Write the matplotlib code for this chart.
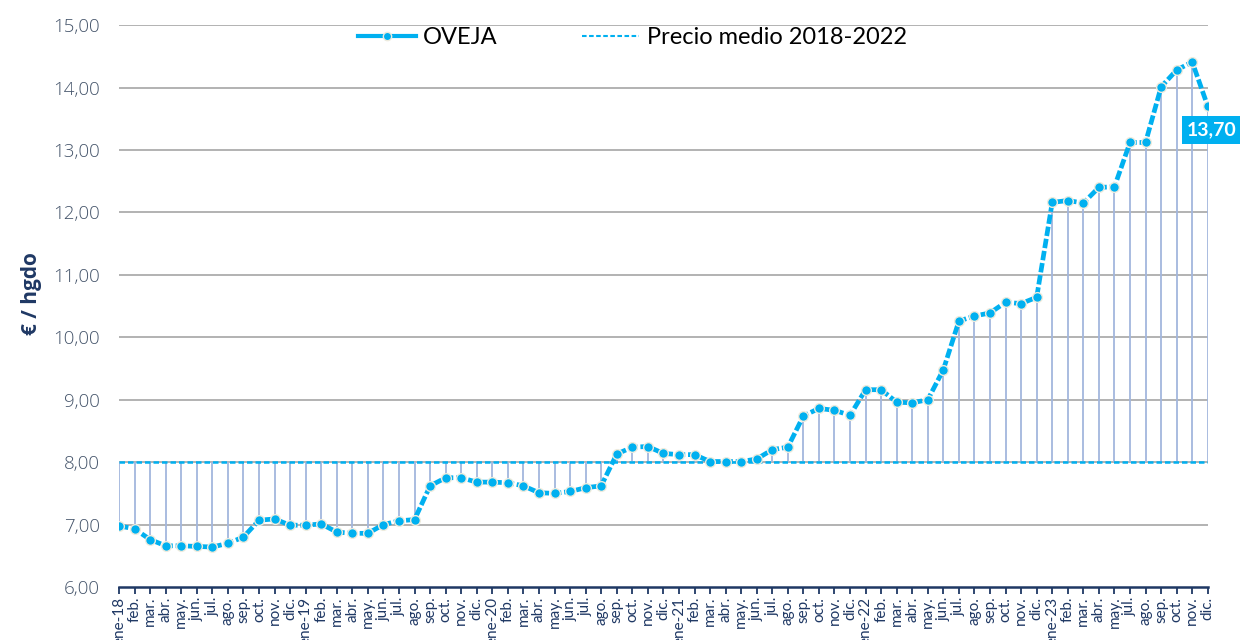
import numpy as np
import matplotlib
matplotlib.use('Agg')
import matplotlib.pyplot as plt
from matplotlib.lines import Line2D
from matplotlib.ticker import FuncFormatter

# precios mensuales de oveja (€/hgdo), ene-2018 a dic-2023 (sin jun-23)
p2018 = [6.98, 6.93, 6.76, 6.66, 6.66, 6.65, 6.64, 6.70, 6.80, 7.07, 7.09, 6.99]
p2019 = [6.99, 7.01, 6.88, 6.86, 6.86, 7.00, 7.06, 7.08, 7.62, 7.75, 7.75, 7.68]
p2020 = [7.68, 7.67, 7.62, 7.51, 7.50, 7.53, 7.59, 7.62, 8.13, 8.24, 8.25, 8.14]
p2021 = [8.12, 8.12, 8.01, 8.01, 8.01, 8.05, 8.20, 8.24, 8.74, 8.86, 8.83, 8.75]
p2022 = [9.16, 9.16, 8.96, 8.95, 9.00, 9.48, 10.26, 10.34, 10.39, 10.56, 10.54, 10.64]
p2023 = [12.16, 12.19, 12.15, 12.40, 12.41, 13.12, 13.12, 14.01, 14.28, 14.41, 13.70]
precio_medio = 8.00

meses = ['feb.', 'mar.', 'abr.', 'may.', 'jun.', 'jul.', 'ago.', 'sep.', 'oct.', 'nov.', 'dic.']
meses_23 = ['feb.', 'mar.', 'abr.', 'may.', 'jul.', 'ago.', 'sep.', 'oct.', 'nov.', 'dic.']
etiquetas = []
for yy in ['18', '19', '20', '21', '22']:
    etiquetas += ['ene-' + yy] + meses
etiquetas += ['ene-23'] + meses_23

oveja = np.array(p2018 + p2019 + p2020 + p2021 + p2022 + p2023)
x = np.arange(len(oveja))

azul = '#00B0F0'
navy = '#1F3864'

fig = plt.figure(figsize=(12.4, 6.4), dpi=100)
ax = fig.add_axes([0.096, 0.0828, 0.878, 0.878])

# lineas verticales desde el precio medio
ax.vlines(x, precio_medio, oveja, color='#A2B6DD', lw=1.3, zorder=2)
ax.plot([x[0], x[-1]], [precio_medio, precio_medio], color=azul, lw=1.8,
        dashes=(2.2, 1.2), zorder=3)
ax.plot(x, oveja, color=azul, lw=3.4, dashes=(2.0, 0.6), zorder=4,
        marker='o', markersize=7, markerfacecolor=azul,
        markeredgecolor='#EEEBDD', markeredgewidth=1.0)

ax.annotate(f'{oveja[-1]:.2f}'.replace('.', ','), xy=(x[-1], oveja[-1]),
            xytext=(3, -17), textcoords='offset points', ha='center', va='center',
            fontsize=14, fontweight='bold', color='white', family='Lato',
            bbox=dict(boxstyle='square,pad=0.28', fc=azul, ec='none'),
            annotation_clip=False, zorder=6)

ax.set_xlim(x[0], x[-1])
ax.set_ylim(6, 15)
ax.set_yticks(np.arange(6, 16, 1))
ax.yaxis.set_major_formatter(FuncFormatter(lambda v, p: f'{v:.2f}'.replace('.', ',')))
for yv in range(7, 16):
    ax.axhline(yv, color='#A6A6A6', lw=1.2, zorder=1)

ax.set_xticks(x)
ax.set_xticklabels(etiquetas, rotation=90, fontsize=11, color=navy, family='Lato')
ax.tick_params(axis='x', direction='out', length=5, width=1.3, color=navy, pad=2)
ax.tick_params(axis='y', length=0, pad=14, labelsize=13.5, labelcolor='#44546A')
for lab in ax.get_yticklabels():
    lab.set_family('Open Sans')
    lab.set_fontweight('light')

for s in ['top', 'right', 'left']:
    ax.spines[s].set_visible(False)
ax.spines['bottom'].set_color(navy)
ax.spines['bottom'].set_linewidth(1.8)

fig.text(0.025, 0.542, '€ / hgdo', rotation=90, ha='center', va='center',
         fontsize=15, fontweight='bold', color=navy, family='Open Sans')

handles = [Line2D([], [], color=azul, lw=3, marker='o', markersize=6,
                  markeredgecolor='#EEEBDD'),
           Line2D([], [], color=azul, lw=1.5, dashes=(2.2, 1.2))]
fig.legend(handles, ['OVEJA', 'Precio medio 2018-2022'], loc='center',
           bbox_to_anchor=(0.51, 0.941), ncol=2, frameon=False,
           prop={'family': 'Lato', 'size': 17}, handlelength=2.45,
           handletextpad=0.3, columnspacing=3.55)

fig.savefig('out.png', dpi=100)
